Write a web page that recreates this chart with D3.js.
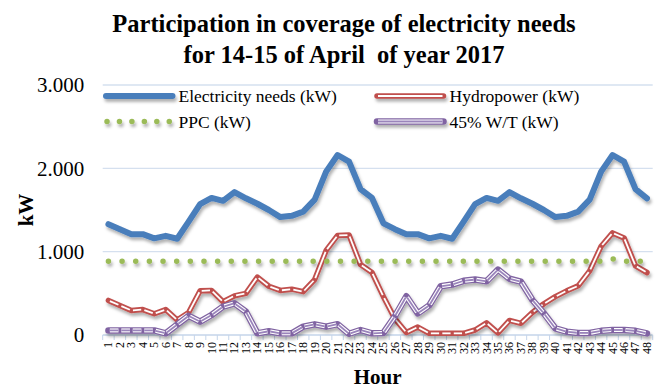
<!DOCTYPE html>
<html>
<head>
<meta charset="utf-8">
<script src="https://cdn.jsdelivr.net/npm/d3@7"></script>
<style>
  html, body { margin: 0; padding: 0; background: #fff; }
  svg { display: block; font-family: "Liberation Serif", "Times New Roman", serif; }
</style>
</head>
<body>
<svg id="chart" width="664" height="389"></svg>
<script>
// Hours of 14-15 April 2017 (48 hourly slots)
const hours = ["1","2","3","4","5","6","7","8","9","10","11","12","13","14","15","16",
  "17","18","19","20","21","22","23","24","25","26","27","28","29","30","31","32",
  "33","34","35","36","37","38","39","40","41","42","43","44","45","46","47","48"];

// Electricity needs (kW)
const electricityNeeds = [1330, 1270, 1210, 1210, 1160, 1190, 1155, 1360, 1570, 1645, 1610, 1715,
  1640, 1575, 1500, 1415, 1430, 1480, 1625, 1960, 2160, 2080, 1750, 1645,
  1340, 1270, 1210, 1210, 1160, 1190, 1155, 1360, 1570, 1645, 1610, 1715,
  1640, 1575, 1500, 1415, 1430, 1480, 1625, 1960, 2160, 2080, 1750, 1640];

// Hydropower (kW)
const hydropower = [415, 355, 295, 305, 255, 305, 180, 270, 530, 535, 400, 470,
  500, 695, 585, 535, 550, 520, 665, 1015, 1195, 1200, 845, 750,
  460, 195, 30, 95, 20, 20, 20, 20, 60, 145, 25, 175,
  140, 270, 375, 460, 530, 590, 770, 1065, 1225, 1165, 830, 750];

// PPC (kW)
const ppc = [885, 885, 885, 885, 885, 885, 885, 885, 885, 885, 885, 885,
  885, 885, 885, 885, 885, 885, 885, 885, 885, 885, 885, 885,
  885, 885, 885, 885, 885, 885, 885, 885, 885, 885, 885, 885,
  885, 885, 885, 885, 885, 885, 885, 885, 915, 885, 885, 885];

// 45% W/T (kW)
const windTurbines = [55, 55, 55, 55, 55, 20, 125, 230, 160, 240, 340, 380,
  280, 20, 45, 20, 20, 100, 128, 100, 130, 15, 60, 20,
  25, 225, 465, 260, 355, 585, 605, 650, 665, 645, 785, 675,
  640, 420, 260, 80, 40, 25, 25, 50, 60, 60, 50, 20];

const yTicks = [0, 1000, 2000, 3000];
const seriesNames = ["Electricity needs (kW)", "Hydropower (kW)", "PPC (kW)", "45% W/T (kW)"];
const titleLines = ["Participation in coverage of electricity needs", "for 14-15 of April  of year 2017"];

const W = 664, H = 389;
const svg = d3.select("#chart");
const plot = { left: 102.7, right: 652.7, top: 85, bottom: 335 };

const x = d3.scaleBand().domain(hours).range([plot.left, plot.right]);
const cx = h => x(h) + x.bandwidth() / 2;
const y = d3.scaleLinear().domain([0, 3000]).range([plot.bottom, plot.top]);

const fmt = d3.formatLocale({ decimal: ",", thousands: ".", grouping: [3], currency: ["", ""] }).format(",");

// soft shadow under the series lines (user-space region so flat lines keep it)
const defs = svg.append("defs");
const sh = defs.append("filter").attr("id", "shadow")
  .attr("filterUnits", "userSpaceOnUse")
  .attr("x", 0).attr("y", 0).attr("width", W).attr("height", H);
sh.append("feDropShadow").attr("dx", 1.5).attr("dy", 3).attr("stdDeviation", 1.8)
  .attr("flood-color", "#000").attr("flood-opacity", 0.3);

// title
svg.append("g").selectAll("text").data(titleLines).join("text")
  .attr("x", 344).attr("y", (d, i) => 32 + i * 31)
  .attr("text-anchor", "middle")
  .style("font-size", "24.5px").style("font-weight", "bold").style("white-space", "pre")
  .attr("fill", "#000").text(d => d);

// horizontal gridlines
svg.append("g").selectAll("line").data(yTicks.filter(v => v > 0)).join("line")
  .attr("x1", plot.left).attr("x2", plot.right)
  .attr("y1", d => y(d)).attr("y2", d => y(d))
  .attr("stroke", "#d5e0ef").attr("stroke-width", 1.3);

// y axis labels
const yAxis = svg.append("g").attr("transform", `translate(${plot.left},0)`)
  .call(d3.axisLeft(y).tickValues(yTicks).tickFormat(fmt).tickSize(0).tickPadding(18.5));
yAxis.select(".domain").remove();
yAxis.attr("font-family", null);
yAxis.selectAll("text").style("font-size", "21px").attr("fill", "#000");

// x axis line and between-category tick marks
svg.append("line").attr("x1", plot.left).attr("x2", plot.right)
  .attr("y1", plot.bottom).attr("y2", plot.bottom)
  .attr("stroke", "#c5d5ea").attr("stroke-width", 1.3);
const boundaries = hours.map(h => x(h)).concat([x(hours[hours.length - 1]) + x.bandwidth()]);
svg.append("g").selectAll("line").data(boundaries).join("line")
  .attr("x1", d => d).attr("x2", d => d)
  .attr("y1", plot.bottom).attr("y2", plot.bottom + 5)
  .attr("stroke", "#c5d5ea").attr("stroke-width", 1);

// x axis labels, rotated
svg.append("g").selectAll("text").data(hours).join("text")
  .attr("transform", d => `translate(${cx(d)},${plot.bottom + 7}) rotate(-90)`)
  .attr("text-anchor", "end").attr("dy", "0.33em")
  .style("font-size", "12px").attr("fill", "#000").text(d => d);

// axis titles
svg.append("text").attr("transform", `translate(33,${(plot.top + plot.bottom) / 2}) rotate(-90)`)
  .attr("text-anchor", "middle")
  .style("font-size", "21px").style("font-weight", "bold").text("kW");
svg.append("text").attr("x", (plot.left + plot.right) / 2).attr("y", 384)
  .attr("text-anchor", "middle")
  .style("font-size", "21px").style("font-weight", "bold").text("Hour");

// line generators
const line = d3.line().x((d, i) => cx(hours[i])).y(d => y(d));
const pts = vals => vals.map((v, i) => [cx(hours[i]), y(v)]);

// inner stroke drawn per segment, slightly shortened so it breaks at each vertex
function coreSegments(g, vals, color, width, gap) {
  const p = pts(vals);
  const segs = d3.pairs(p).map(([a, b]) => {
    const dx = b[0] - a[0], dy = b[1] - a[1], L = Math.hypot(dx, dy);
    const ux = dx / L, uy = dy / L;
    return [[a[0] + ux * gap, a[1] + uy * gap], [b[0] - ux * gap, b[1] - uy * gap]];
  });
  g.append("g").selectAll("line").data(segs).join("line")
    .attr("x1", d => d[0][0]).attr("y1", d => d[0][1])
    .attr("x2", d => d[1][0]).attr("y2", d => d[1][1])
    .attr("stroke", color).attr("stroke-width", width).attr("stroke-linecap", "butt");
}

const series = svg.append("g");

// Electricity needs
series.append("path").datum(electricityNeeds)
  .attr("d", line).attr("fill", "none")
  .attr("stroke", "#4a7ebb").attr("stroke-width", 6)
  .attr("stroke-linejoin", "round").attr("stroke-linecap", "round")
  .attr("filter", "url(#shadow)");

// Hydropower (double line)
const gHydro = series.append("g").attr("filter", "url(#shadow)");
gHydro.append("path").datum(hydropower)
  .attr("d", line).attr("fill", "none")
  .attr("stroke", "#c0504d").attr("stroke-width", 5.5)
  .attr("stroke-linejoin", "round").attr("stroke-linecap", "round");
coreSegments(gHydro, hydropower, "#fff", 1.8, 1.6);

// PPC (round dots)
series.append("path").datum(ppc)
  .attr("d", line).attr("fill", "none")
  .attr("stroke", "#9bbb59").attr("stroke-width", 5.5)
  .attr("stroke-dasharray", "0 13.65").attr("stroke-linecap", "round")
  .attr("filter", "url(#shadow)");

// 45% W/T (triple line)
const gWind = series.append("g").attr("filter", "url(#shadow)");
gWind.append("path").datum(windTurbines)
  .attr("d", line).attr("fill", "none")
  .attr("stroke", "#8064a2").attr("stroke-width", 6.5)
  .attr("stroke-linejoin", "round").attr("stroke-linecap", "round");
coreSegments(gWind, windTurbines, "#fff", 4, 1.4);
coreSegments(gWind, windTurbines, "#9a84bb", 1.8, 1.4);

// legend
const legendPos = [[106, 96], [377, 96], [106, 121.5], [377, 121.5]];
const legend = svg.append("g");
const sampleLen = 66.5;
seriesNames.forEach((name, i) => {
  const [lx, ly] = legendPos[i];
  const g = legend.append("g");
  const s = g.append("g").attr("filter", "url(#shadow)");
  if (i === 0) {
    s.append("line").attr("x1", lx).attr("x2", lx + sampleLen).attr("y1", ly).attr("y2", ly)
      .attr("stroke", "#4a7ebb").attr("stroke-width", 6).attr("stroke-linecap", "round");
  } else if (i === 1) {
    s.append("line").attr("x1", lx).attr("x2", lx + sampleLen).attr("y1", ly).attr("y2", ly)
      .attr("stroke", "#c0504d").attr("stroke-width", 5.5).attr("stroke-linecap", "round");
    s.append("line").attr("x1", lx + 1).attr("x2", lx + sampleLen - 1).attr("y1", ly).attr("y2", ly)
      .attr("stroke", "#fff").attr("stroke-width", 1.8);
  } else if (i === 2) {
    s.append("line").attr("x1", lx + 1).attr("x2", lx + sampleLen).attr("y1", ly).attr("y2", ly)
      .attr("stroke", "#9bbb59").attr("stroke-width", 5.5)
      .attr("stroke-dasharray", "0 12.45").attr("stroke-linecap", "round");
  } else {
    s.append("line").attr("x1", lx).attr("x2", lx + sampleLen).attr("y1", ly).attr("y2", ly)
      .attr("stroke", "#8064a2").attr("stroke-width", 6.5).attr("stroke-linecap", "round");
    s.append("line").attr("x1", lx + 1).attr("x2", lx + sampleLen - 1).attr("y1", ly).attr("y2", ly)
      .attr("stroke", "#fff").attr("stroke-width", 4);
    s.append("line").attr("x1", lx + 1).attr("x2", lx + sampleLen - 1).attr("y1", ly).attr("y2", ly)
      .attr("stroke", "#9a84bb").attr("stroke-width", 1.8);
  }
  g.append("text").attr("x", lx + sampleLen + 6).attr("y", ly + 6)
    .style("font-size", "17.5px").attr("fill", "#000").text(name);
});
</script>
</body>
</html>
